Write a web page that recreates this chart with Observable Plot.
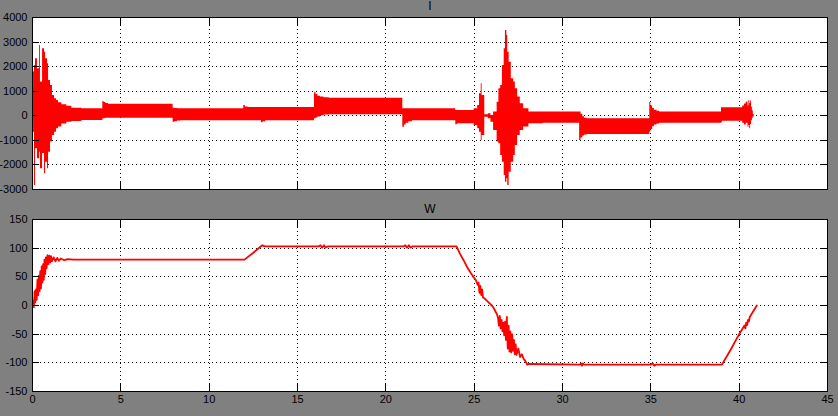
<!DOCTYPE html>
<html><head><meta charset="utf-8">
<script src="https://cdn.jsdelivr.net/npm/d3@7"></script>
<script src="https://cdn.jsdelivr.net/npm/@observablehq/plot@0.6"></script>
<style>
html,body{margin:0;padding:0;background:#808080;}
#chart{width:838px;height:416px;overflow:hidden;background:#808080;}
#chart svg{display:block;}
</style></head><body><div id="chart"></div>
<script>
// tick labels
const xTicks = [0, 5, 10, 15, 20, 25, 30, 35, 40, 45];
const iTicks = [-3000, -2000, -1000, 0, 1000, 2000, 3000, 4000];
const wTicks = [-150, -100, -50, 0, 50, 100, 150];
const titles = ["I", "W"];

// I: envelope of the oscillating current (time, upper, lower)
const iTime = [0, 0.06, 0.11, 0.17, 0.28, 0.40, 0.45, 0.57, 0.68, 0.74, 0.85, 0.91, 1.02, 1.13, 1.25, 1.36, 1.47, 1.66, 1.94, 2.23, 2.79,
  3.98, 4.05, 4.15, 4.3,
  7.96, 8.05, 8.2, 8.4,
  11.96, 12.05, 12.2, 12.96, 13.05, 13.2,
  15.96, 16.05, 16.15, 16.3, 16.5, 16.8,
  20.96, 21.05, 21.15, 21.3, 21.5,
  23.96, 24.05,
  25.0, 25.2, 25.3, 25.4, 25.45, 25.6, 25.8, 25.95, 26.1, 26.3, 26.4, 26.5, 26.6, 26.7, 26.77, 26.85, 26.9, 26.98, 27.1, 27.24, 27.33, 27.46, 27.61, 27.8, 28.1, 28.9,
  30.97, 31.05, 31.15, 31.25, 31.4,
  34.94, 35.0, 35.1, 35.2, 35.35, 35.5,
  39.0, 39.05, 40.2, 40.3, 40.4, 40.5, 40.55, 40.6, 40.65, 40.7, 40.75, 40.8, 40.85];
const iHigh = [1160, 1780, 2050, 2320, 1910, 2860, 1370, 2730, 2590, 2320, 2120, 1440, 1230, 830, 690, 620, 530, 450, 390, 310, 285,
  580, 540, 500, 470,
  310, 300, 290, 285,
  420, 360, 338, 338, 338, 338,
  936, 870, 800, 760, 730, 716,
  285, 285, 285, 285, 285,
  216, 216,
  285, 420, 895, 1300, 830, 40, 80, 12, 150, 550, 1100, 1230, 2050, 2730, 3470, 3270, 2590, 2180, 1510, 1370, 1100, 760, 490, 285, 150, 150,
  150, 60, -40, -98, -122,
  553, 400, 300, 230, 180, 150,
  326, 326, 400, 480, 560, 400, 623, 500, 600, 350, 200, 50, 0];
const iLow = [0, -670, -2840, -1340, -1750, -1480, -2160, -1530, -2360, -1890, -2160, -1480, -1070, -800, -670, -530, -460, -330, -260, -230, -190,
  -130, -110, -100, -100,
  -260, -240, -215, -205,
  -205, -205, -205, -285, -240, -205,
  -122, -90, -50, 0, 30, 40,
  -464, -380, -300, -240, -200,
  -360, -326,
  -395, -530, -670, -1005, -800, -57, -120, -260, -600, -1070, -1140, -1620, -1890, -2430, -2700, -2560, -2840, -2300, -1890, -1620, -1210, -800, -600, -460, -326, -300,
  -1005, -900, -820, -780, -761,
  -667, -560, -450, -380, -330, -300,
  -285, -220, -300, -380, -300, -470, -400, -529, -350, -200, -100, -50, 0];

// W: speed
const wTime = [0, 0.05, 0.08, 0.12, 0.15, 0.2, 0.24, 0.28, 0.32, 0.36, 0.4, 0.44, 0.48, 0.52, 0.56, 0.6, 0.64, 0.68, 0.72, 0.76, 0.8, 0.85, 0.9, 0.95, 1.0, 1.05, 1.1, 1.2, 1.3, 1.4, 1.5, 1.6, 1.8, 2.0, 2.3,
  12.0, 12.5, 13.0, 13.15,
  16.2, 16.3, 16.4, 16.5, 16.6, 16.7,
  21.0, 21.1, 21.2, 21.3, 21.4, 21.5,
  24.0, 24.2, 24.4, 24.6, 24.8, 25.0, 25.1, 25.2, 25.25, 25.3, 25.35, 25.4, 25.45, 25.5, 25.6, 25.8, 26.0, 26.1, 26.2, 26.3, 26.35, 26.4, 26.45, 26.5, 26.55, 26.6, 26.65, 26.7, 26.75, 26.8, 26.85, 26.9, 26.95, 27.0, 27.05, 27.1, 27.15, 27.2, 27.25, 27.3, 27.35, 27.4, 27.5, 27.6, 27.7, 27.8, 27.9, 28.0, 28.1,
  31.0, 31.05, 31.1, 31.15, 31.2,
  35.0, 35.1, 35.2, 35.3,
  39.03, 39.5, 40.0, 40.3, 40.35, 40.4, 40.45, 40.5, 40.55, 40.6, 41.0];
const wVal = [0, 8, -3, 25, 5, 28, 10, 45, 18, 52, 25, 60, 30, 68, 40, 72, 45, 80, 55, 84, 65, 88, 72, 87, 75, 86, 77, 84, 77, 83, 78, 82, 79, 81, 80,
  80, 92, 105, 103,
  103, 105, 101, 105, 101, 103,
  103, 105, 101, 105, 101, 103,
  103, 90, 79, 67, 57, 48, 44, 36, 40, 22, 34, 18, 28, 14, 12, 6, 0, -4, -10, -16, -22, -35, -18, -40, -25, -45, -30, -52, -28, -60, -20, -75, -35, -80, -45, -82, -50, -79, -60, -85, -68, -86, -75, -90, -85, -93, -97, -103, -102,
  -103, -101, -105, -101, -103,
  -103, -101, -105, -103,
  -103, -78, -50, -35, -40, -30, -34, -25, -28, -20, 0];

const iData = iTime.map((t, k) => ({t, hi: iHigh[k], lo: iLow[k]}));
const wData = wTime.map((t, k) => ({t, w: wVal[k]}));

const font = "'Liberation Sans', Arial, Helvetica, sans-serif";
const grid = {stroke: "black", strokeOpacity: 1, strokeDasharray: "1,3", strokeWidth: 1, shapeRendering: "crispEdges"};
const fmt = d => String(d);

function boxMarks(yTicks) {
  const tk = {tickSize: -7, fill: "none", stroke: "black", strokeOpacity: 1, shapeRendering: "crispEdges"};
  return [
    Plot.axisY(yTicks, {anchor: "left", ...tk}),
    Plot.axisY(yTicks, {anchor: "right", ...tk}),
    Plot.axisX(xTicks, {anchor: "top", ...tk}),
    Plot.axisX(xTicks, {anchor: "bottom", ...tk}),
    Plot.axisY(yTicks, {anchor: "left", tickSize: 0, tickPadding: 5, stroke: "none", fill: "black", tickFormat: fmt, label: null, fontSize: 11}),
    Plot.frame({stroke: "black", shapeRendering: "crispEdges"})
  ];
}

const style = {background: "#808080", color: "black", fontFamily: font, fontSize: "11px", overflow: "visible"};

const topPlot = Plot.plot({
  width: 838, height: 200,
  marginLeft: 32, marginRight: 11, marginTop: 17, marginBottom: 11,
  x: {domain: [0, 45], axis: null},
  y: {domain: [-3000, 4000], axis: null},
  style,
  marks: [
    Plot.frame({fill: "white", stroke: "none"}),
    Plot.gridX(xTicks, grid),
    Plot.gridY(iTicks, grid),
    Plot.areaY(iData, {x: "t", y1: "lo", y2: "hi", fill: "#ff0000", curve: "step-after"}),
    ...boxMarks(iTicks),
    Plot.text([titles[0]], {text: d => d, frameAnchor: "top", lineAnchor: "middle", dy: -11, fontSize: 12, fill: "black"})
  ]
});

const bottomPlot = Plot.plot({
  width: 838, height: 216,
  marginLeft: 32, marginRight: 11, marginTop: 19, marginBottom: 25,
  x: {domain: [0, 45], axis: null},
  y: {domain: [-150, 150], axis: null},
  style,
  marks: [
    Plot.frame({fill: "white", stroke: "none"}),
    Plot.gridX(xTicks, grid),
    Plot.gridY(wTicks, grid),
    Plot.lineY(wData, {x: "t", y: "w", stroke: "#ff0000", strokeWidth: 1.8}),
    ...boxMarks(wTicks),
    Plot.axisX(xTicks, {anchor: "bottom", tickSize: 0, tickPadding: 4, stroke: "none", fill: "black", tickFormat: fmt, label: null, fontSize: 11}),
    Plot.text([titles[1]], {text: d => d, frameAnchor: "top", lineAnchor: "middle", dy: -10, fontSize: 12, fill: "black"})
  ]
});

const chart = document.getElementById("chart");
chart.appendChild(topPlot);
chart.appendChild(bottomPlot);
</script>
</body></html>
